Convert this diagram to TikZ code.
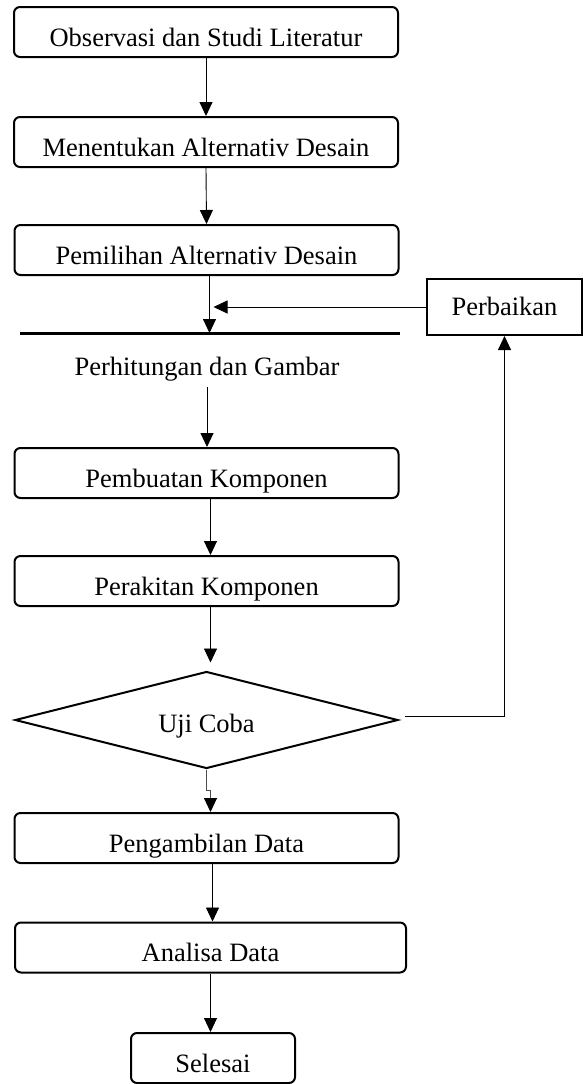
\documentclass[tikz,border=0pt]{standalone}
\usepackage{fontspec}
\setmainfont{Liberation Serif}
\usetikzlibrary{shapes.geometric,arrows.meta,calc}
\begin{document}
\begin{tikzpicture}[x=1pt,y=-1pt,
  every node/.style={font=\fontsize{26.5}{30}\selectfont},
  stepbox/.style={draw,line width=2pt,rounded corners=6pt,minimum height=50pt,
    text height=28pt,text depth=0pt,inner sep=0pt},
  plainbox/.style={draw,line width=2pt,minimum height=56pt,minimum width=155pt,
    text height=16pt,text depth=0pt,inner sep=0pt},
  decision/.style={draw,diamond,aspect=4,line width=2pt,minimum width=383pt,
    minimum height=97pt,text height=24pt,text depth=0pt,inner sep=0pt},
  arr/.style={-{Triangle[length=14pt,width=13pt,color=black]},line width=0.9pt},
  bar/.style={line width=3pt},
]
\useasboundingbox (0,0) rectangle (584,1084);
\node[stepbox,minimum width=384pt] (b1) at (206,32) {Observasi dan Studi Literatur};
\node[stepbox,minimum width=384pt] (b2) at (206,142) {Menentukan Alternativ Desain};
\node[stepbox,minimum width=384pt] (b3) at (206.5,250) {Pemilihan Alternativ Desain};
\coordinate (lL) at (20,333);
\coordinate (lR) at (400,333);
\node[plainbox] (pb) at (504.5,307) {Perbaikan};
\node[anchor=base,inner sep=0pt] (ph) at (207,375) {Perhitungan dan Gambar};
\node[stepbox,minimum width=384pt] (b4) at (206.5,473) {Pembuatan Komponen};
\node[stepbox,minimum width=384pt] (b5) at (206.5,581) {Perakitan Komponen};
\node[decision] (uc) at (206.5,720) {Uji Coba};
\node[stepbox,minimum width=384pt] (b6) at (206.5,838) {Pengambilan Data};
\node[stepbox,minimum width=391pt] (b7) at (210.5,947.5) {Analisa Data};
\node[stepbox,minimum width=164pt] (b8) at (213,1058) {Selesai};
\coordinate (j1) at ($(uc.south)+(0,21)$);
\coordinate (j2) at ($(uc.south)+(4,21)$);
\coordinate (u1) at ($(uc.north)+(4,-8)$);

\draw[bar] (lL) -- (lR);
\draw[arr] (b1.south) -- (b2.north);
\draw[arr] (b2.south) -- (b3.north);
\draw[arr] ([xshift=3pt]b3.south) -- ([xshift=3pt]b3.south |- lL);
\draw[arr] (pb.west) -- ($(b3.south |- pb.west)+(7,0)$);
\draw[arr] ($(ph.south)+(0,6)$) -- (ph.south |- b4.north);
\draw[arr] ([xshift=4pt]b4.south) -- ([xshift=4pt]b5.north);
\draw[arr] ([xshift=4pt]b5.south) -- (u1);
\draw[arr] ($(uc.east)+(6,-4)$) -| (pb.south);
\draw[arr,draw=black!70] (uc.south) -- (j1) -- (j2) -- (j2 |- b6.north);
\draw[arr] ([xshift=6pt]b6.south) -- ([xshift=6pt]b6.south |- b7.north);
\draw[arr] (b7.south) -- (b7.south |- b8.north);
\end{tikzpicture}
\end{document}
